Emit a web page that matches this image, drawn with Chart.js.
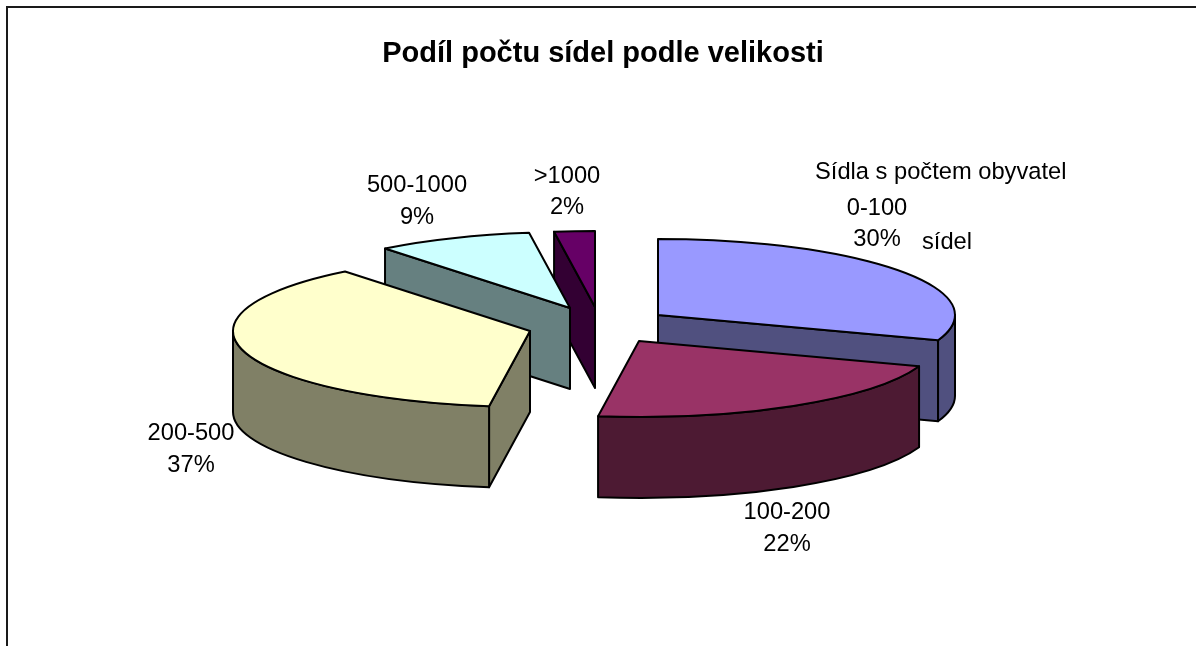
<!DOCTYPE html>
<html><head><meta charset="utf-8">
<style>html,body{margin:0;padding:0;background:#fff}#w{width:1196px;height:646px;position:relative}canvas{display:block}</style>
<script src="https://cdn.jsdelivr.net/npm/chart.js@4"></script>
</head><body><div id="w"><canvas id="c" width="1196" height="646"></canvas></div>
<script>
const categories = ['0-100','100-200','200-500','500-1000','>1000'];
const shares = [30.4,21.8,37.1,8.5,2.2];
const titleText = 'Podíl počtu sídel podle velikosti';
const noteLines = ['Sídla s počtem obyvatel','sídel'];
const topColors = ['#9999FF','#993366','#FFFFCC','#CCFFFF','#660066'];
const wallColors = ['#50507F','#4D1A33','#808066','#668080','#330033'];

const view = {cx:610,cy:324,rx:297,ry:76,depth:81,line:2,
  shiftX:[48,29,-80,-40,-15], shiftY:[-9,17,7,-16,-17],
  order:[4,3,0,2,1]};
const labelPos = [[877,208,239],[787,512,544],[191,433,465],[417,185,217],[567,176,207]];
const notePos = [[815,172],[922,242]];
const FONT = '"Liberation Sans",Arial,sans-serif';

const pie3d = {
  id:'pie3d',
  beforeDatasetsDraw(chart){
    const ctx = chart.ctx, arcs = chart.getDatasetMeta(0).data;
    const {rx,ry,depth,line} = view;
    ctx.save();
    ctx.lineWidth = line; ctx.strokeStyle = '#000'; ctx.lineJoin = 'round';
    const face = (pts,col)=>{
      ctx.beginPath(); pts.forEach((p,i)=> i?ctx.lineTo(p[0],p[1]):ctx.moveTo(p[0],p[1]));
      ctx.closePath(); ctx.fillStyle = col; ctx.fill(); ctx.stroke();
    };
    view.order.forEach(i=>{
      const a = arcs[i];
      const {x,y,startAngle:sa,endAngle:ea,outerRadius:R} = a.getProps(['x','y','startAngle','endAngle','outerRadius'],true);
      const X = view.cx+view.shiftX[i], Y = view.cy+view.shiftY[i];
      const pt = t=>[X+rx*Math.cos(t),Y+ry*Math.sin(t)];
      // cut faces that look towards the viewer
      const ps = pt(sa), pe = pt(ea);
      if (Math.cos(sa) < -1e-6)
        face([[X,Y],ps,[ps[0],ps[1]+depth],[X,Y+depth]],wallColors[i]);
      if (Math.cos(ea) > 1e-6)
        face([[X,Y],pe,[pe[0],pe[1]+depth],[X,Y+depth]],wallColors[i]);
      // rim wall: only the near half of the ellipse (canvas angles 0..PI)
      const from = Math.max(sa,0), to = Math.min(ea,Math.PI);
      if (to > from){
        ctx.beginPath();
        ctx.ellipse(X,Y,rx,ry,0,from,to);
        ctx.ellipse(X,Y+depth,rx,ry,0,to,from,true);
        ctx.closePath(); ctx.fillStyle = wallColors[i]; ctx.fill(); ctx.stroke();
      }
      // top face: the library's own arc element, squashed into perspective
      const s = rx/R, k = ry/rx;
      ctx.save();
      ctx.translate(X,Y); ctx.scale(s,s*k); ctx.translate(-x,-y);
      a.draw(ctx);
      ctx.restore();
      ctx.beginPath();
      ctx.moveTo(X,Y); ctx.ellipse(X,Y,rx,ry,0,sa,ea); ctx.closePath(); ctx.stroke();
    });
    ctx.restore();
    return false;
  },
  afterDraw(chart){
    const ctx = chart.ctx;
    ctx.save();
    ctx.strokeStyle = '#1a1a1a'; ctx.lineWidth = 2;
    ctx.beginPath(); ctx.moveTo(7,646); ctx.lineTo(7,7); ctx.lineTo(1196,7); ctx.stroke();
    ctx.fillStyle = '#000'; ctx.font = '23.7px '+FONT; ctx.textBaseline = 'middle';
    ctx.textAlign = 'center';
    const total = shares.reduce((p,v)=>p+v,0);
    categories.forEach((c,i)=>{
      const [lx,y1,y2] = labelPos[i];
      ctx.fillText(c,lx,y1);
      ctx.fillText(Math.round(shares[i]/total*100)+'%',lx,y2);
    });
    ctx.textAlign = 'left';
    noteLines.forEach((t,i)=>ctx.fillText(t,notePos[i][0],notePos[i][1]));
    ctx.restore();
  }
};

new Chart(document.getElementById('c'),{
  type:'pie',
  data:{labels:categories,datasets:[{data:shares,backgroundColor:topColors,borderWidth:0}]},
  options:{
    responsive:false,animation:false,events:[],
    layout:{padding:{top:0,bottom:0,left:10,right:0}},
    plugins:{
      legend:{display:false},tooltip:{enabled:false},
      title:{display:true,text:titleText,color:'#000',font:{family:FONT,size:29,weight:'bold'},padding:{top:37,bottom:10}}
    }
  },
  plugins:[pie3d]
});
</script></body></html>
